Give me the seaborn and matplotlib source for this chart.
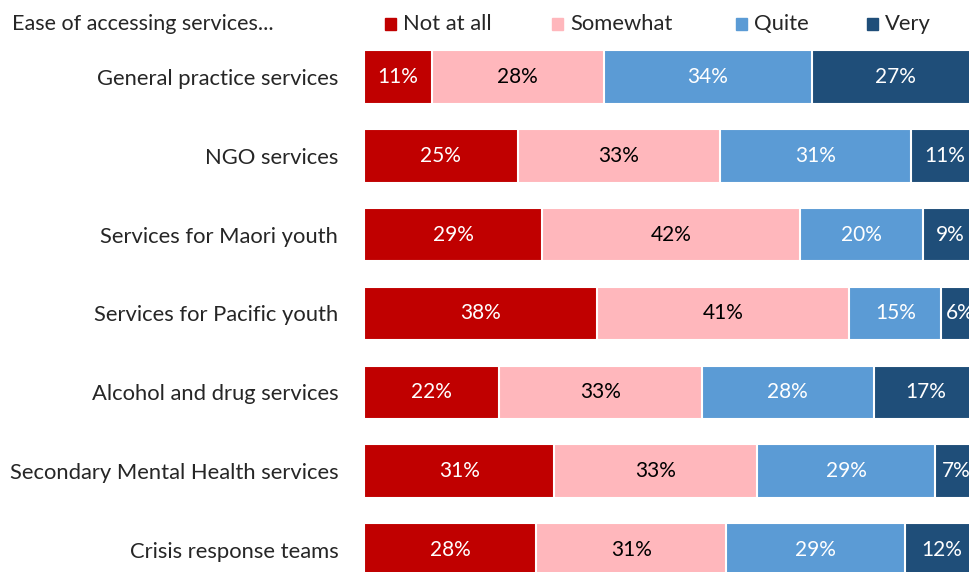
import numpy as np
import pandas as pd
import matplotlib
matplotlib.use('Agg')
import matplotlib.pyplot as plt
import seaborn as sns

services = ['General practice services', 'NGO services', 'Services for Maori youth',
            'Services for Pacific youth', 'Alcohol and drug services',
            'Secondary Mental Health services', 'Crisis response teams']
not_at_all = [11, 25, 29, 38, 22, 31, 28]
somewhat = [28, 33, 42, 41, 33, 33, 31]
quite = [34, 31, 20, 15, 28, 29, 29]
very = [27, 11, 9, 6, 17, 7, 12]

levels = ['Not at all', 'Somewhat', 'Quite', 'Very']
colors = ['#C00000', '#FFB7BC', '#5B9BD5', '#1F4E79']
text_colors = ['white', 'black', 'white', 'white']

sns.set_style('white')
plt.rcParams['font.family'] = ['Lato', 'DejaVu Sans']

df = pd.DataFrame({'service': services, 'Not at all': not_at_all, 'Somewhat': somewhat,
                   'Quite': quite, 'Very': very})
cum = df[levels].cumsum(axis=1)

fig = plt.figure(figsize=(9.69, 5.72), dpi=100)
ax = fig.add_axes([364 / 969, 0, 1 - 364 / 969, 1])

# draw cumulative totals from the widest down so each segment shows
for i in range(len(levels) - 1, -1, -1):
    sns.barplot(x=cum[levels[i]], y=df['service'], orient='h', color=colors[i],
                width=0.68, edgecolor='white', linewidth=1.5, saturation=1, ax=ax)

# percentage labels
for i, lev in enumerate(levels):
    mids = cum[lev] - df[lev] / 2
    for j in range(len(services)):
        ax.text(mids[j], j, f'{df[lev][j]}%', ha='center', va='center',
                color=text_colors[i], fontsize=15)

ax.set_xlim(0, 98.5)
ax.set_ylim(6 + 22 / 79, -77 / 79)
ax.set_xlabel('')
ax.set_ylabel('')
ax.set_xticks([])
ax.tick_params(axis='y', length=0, pad=18.5, labelsize=15.8)
sns.despine(ax=ax, left=True, bottom=True)

# title and legend at the top
fig.text(12 / 969, 1 - 24 / 572, 'Ease of accessing services...', fontsize=15.5,
         ha='left', va='center')
leg_x = [385, 552, 736, 867]
for i, lev in enumerate(levels):
    fig.patches.append(plt.Rectangle((leg_x[i] / 969, 1 - 30 / 572), 11 / 969, 12 / 572,
                                     transform=fig.transFigure, color=colors[i], figure=fig))
    fig.text((leg_x[i] + 18) / 969, 1 - 24 / 572, lev, fontsize=15.8, ha='left', va='center')

fig.savefig('out.png', dpi=100)
